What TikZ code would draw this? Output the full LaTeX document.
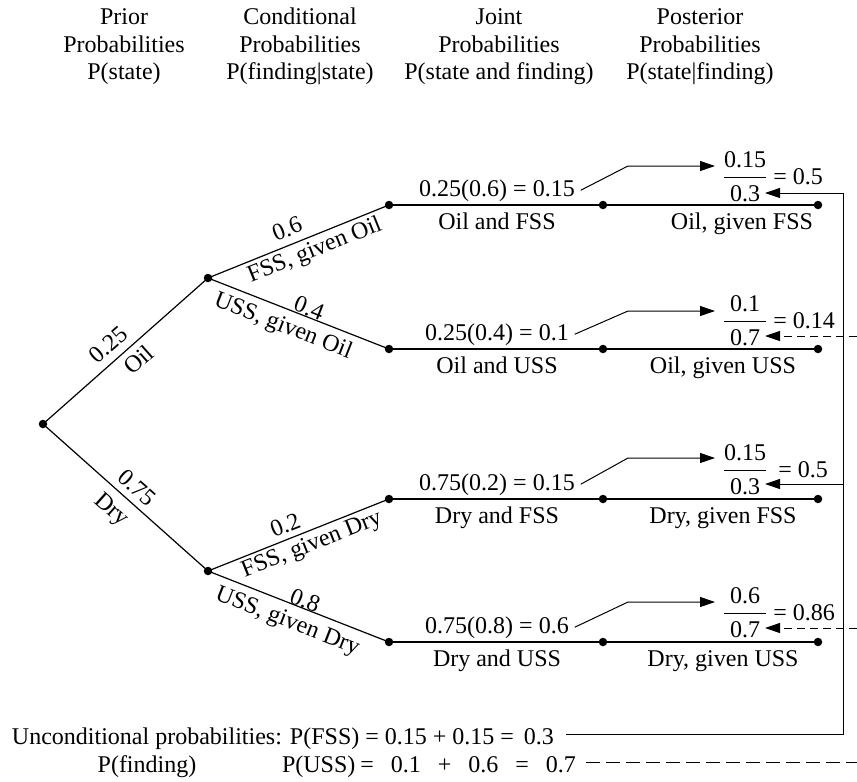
\documentclass[tikz,border=0pt]{standalone}
\usepackage{fontspec}
\setmainfont{Liberation Serif}
\usepackage{amsmath}
\usetikzlibrary{arrows.meta}
\newcommand{\myfrac}[2]{\(\dfrac{\text{\makebox[42pt]{#1}}}{\text{\makebox[42pt]{#2}}}\)}
\begin{document}
\begin{tikzpicture}[x=1pt,y=-1pt,
  every node/.style={font=\fontsize{24}{28}\selectfont, inner sep=0pt, outer sep=0pt},
  br/.style={line width=1.2pt},
  dot/.style={circle, fill=black, minimum size=8.5pt, inner sep=0pt},
  txt/.style={anchor=base},
  lead/.style={line width=1pt},
  arr/.style={line width=1pt, -{Triangle[length=15pt,width=10pt]}},
  dshA/.style={dash pattern=on 8pt off 5pt},
  dshB/.style={dash pattern=on 14pt off 6pt},
  joint/.style={anchor=base, inner xsep=6pt},
  post/.style={anchor=base west, inner xsep=8pt},
]
\useasboundingbox (0,0) rectangle (857,782);

% header
\node[txt] (ha1) at (124,24) {Prior};
\node[txt] (hb1) at (124,52) {Probabilities};
\node[txt] (hc1) at (124,79) {P(state)};
\node[txt] (ha2) at (300,24) {Conditional};
\node[txt] (hb2) at (300,52) {Probabilities};
\node[txt] (hc2) at (300,79) {P(finding|state)};
\node[txt] (ha3) at (499,24) {Joint};
\node[txt] (hb3) at (499,52) {Probabilities};
\node[txt] (hc3) at (499,79) {P(state and finding)};
\node[txt] (ha4) at (700,24) {Posterior};
\node[txt] (hb4) at (700,52) {Probabilities};
\node[txt] (hc4) at (700,79) {P(state|finding)};

% dots
\node[dot] (r) at (43,424) {};
\node[dot] (o) at (208,278) {};
\node[dot] (d) at (208,571) {};
\node[dot] (of) at (389,205) {};
\node[dot] (ou) at (389,349) {};
\node[dot] (df) at (389,499) {};
\node[dot] (du) at (389,642) {};
\node[dot] (m1) at (603,205) {};
\node[dot] (m2) at (603,349) {};
\node[dot] (m3) at (603,499) {};
\node[dot] (m4) at (603,642) {};
\node[dot] (e1) at (818,205) {};
\node[dot] (e2) at (818,349) {};
\node[dot] (e3) at (818,499) {};
\node[dot] (e4) at (818,642) {};

% tree branches
\draw[br] (r.center) -- (o.center) node[pos=0.46, sloped, above=8pt]{0.25} node[pos=0.52, sloped, below=7pt]{Oil};
\draw[br] (r.center) -- (d.center) node[pos=0.51, sloped, above=7pt]{0.75} node[pos=0.49, sloped, below=9pt]{Dry};
\draw[br] (o.center) -- (of.center) node[pos=0.47, sloped, above=8pt]{0.6} node[pos=0.56, sloped, below=4pt]{FSS, given Oil};
\draw[br] (o.center) -- (ou.center) node[pos=0.54, sloped, above=1pt]{0.4} node[pos=0.45, sloped, below=7pt]{USS, given Oil};
\draw[br] (d.center) -- (df.center) node[pos=0.455, sloped, above=6pt]{0.2} node[pos=0.545, sloped, below=4pt]{FSS, given Dry};
\draw[br] (d.center) -- (du.center) node[pos=0.52, sloped, above=0pt]{0.8} node[pos=0.475, sloped, below=8pt]{USS, given Dry};

\draw[br] (of.center) -- (m1.center) -- (e1.center);
\draw[br] (ou.center) -- (m2.center) -- (e2.center);
\draw[br] (df.center) -- (m3.center) -- (e3.center);
\draw[br] (du.center) -- (m4.center) -- (e4.center);

% joint texts
\node[joint] (j1) at (497,196) {0.25(0.6) = 0.15};
\node[joint] (j2) at (497,340) {0.25(0.4) = 0.1};
\node[joint] (j3) at (497,490) {0.75(0.2) = 0.15};
\node[joint] (j4) at (497,633) {0.75(0.8) = 0.6};
\node[txt] (jb1) at (497,229) {Oil and FSS};
\node[txt] (jb2) at (497,373) {Oil and USS};
\node[txt] (jb3) at (497,523) {Dry and FSS};
\node[txt] (jb4) at (497,666) {Dry and USS};

% posterior labels
\node[txt] (pb1) at (742,229) {Oil, given FSS};
\node[txt] (pb2) at (723,373) {Oil, given USS};
\node[txt] (pb3) at (723,523) {Dry, given FSS};
\node[txt] (pb4) at (723,666) {Dry, given USS};

% posterior fractions
\node[post] (f1) at (715,184) {\myfrac{0.15}{0.3} = 0.5};
\node[post] (f2) at (715,328) {\myfrac{0.1}{0.7} = 0.14};
\node[post] (f3) at (715,477) {\myfrac{0.15}{0.3}\hspace{5pt} = 0.5};
\node[post] (f4) at (715,620) {\myfrac{0.6}{0.7} = 0.86};

% leader arrows
\coordinate (k1) at (628,166);
\coordinate (k2) at (628,311);
\coordinate (k3) at (628,458);
\coordinate (k4) at (628,602);
\draw[arr] (j1.east) -- (k1) -- (k1 -| f1.west);
\draw[arr] (j2.east) -- (k2) -- (k2 -| f2.west);
\draw[arr] (j3.east) -- (k3) -- (k3 -| f3.west);
\draw[arr] (j4.east) -- (k4) -- (k4 -| f4.west);

% bottom texts
\node[anchor=base west, inner xsep=12pt] (pf) at (0,744) {Unconditional probabilities: P(FSS) = 0.15 + 0.15 =\hspace{4pt} 0.3};
\node[txt] (pfd) at (147,772) {P(finding)};
\node[anchor=base west, inner xsep=10pt] (pu) at (272,772) {P(USS)\hspace{5pt}=\hspace{17pt}0.1\hspace{17pt}+\hspace{17pt}0.6\hspace{17pt}=\hspace{17pt}0.7};

% feedback connectors
\coordinate (v1) at (843,193); \coordinate (t1) at (765,193);
\coordinate (v3) at (843,484); \coordinate (t3) at (765,484);
\coordinate (x2) at (857,336); \coordinate (t2) at (765,336);
\coordinate (x4) at (857,628); \coordinate (t4) at (765,628);
\coordinate (v0) at (843,734); \coordinate (w0) at (857,762);

\draw[lead] (pf.east |- v0) -- (v0) -- (v1);
\draw[arr] (v1) -- (t1);
\draw[arr] (v3) -- (t3);
\draw[arr, dshA] (x2) -- (t2);
\draw[arr, dshA] (x4) -- (t4);
\draw[lead, dshB] (pu.east |- w0) -- (w0);
\end{tikzpicture}
\end{document}
